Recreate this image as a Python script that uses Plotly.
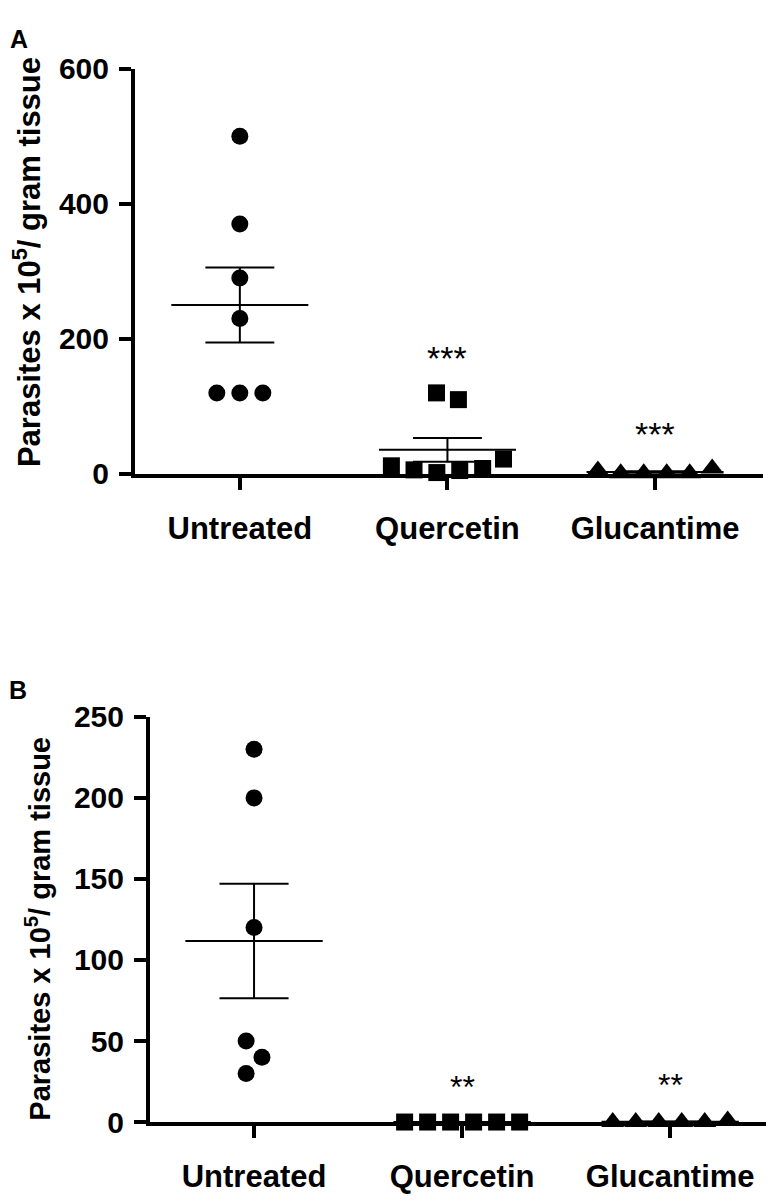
import numpy as np
import plotly.graph_objects as go

# ---------------- data ----------------
categories = ["Untreated", "Quercetin", "Glucantime"]
a_untreated = [500, 370, 290, 230, 120, 120, 120]
a_quercetin = [120, 110, 12, 6, 2, 5, 8, 22]
a_glucantime = [5, 1, 1, 1, 1, 8]
b_untreated = [230, 200, 120, 30, 50, 40]
b_quercetin = [0, 0, 0, 0, 0, 0]
b_glucantime = [0, 0, 0, 0, 0, 1]
a_ticks = [0, 200, 400, 600]
b_ticks = [0, 50, 100, 150, 200, 250]
a_signif = ["", "***", "***"]
b_signif = ["", "**", "**"]
y_title = "<b>Parasites x 10<sup>5</sup>/ gram tissue</b>"
panel_labels = ["A", "B"]

# ---------------- layout constants ----------------
W, H = 774, 1201
FONT = "Arial, Liberation Sans, Helvetica, sans-serif"
symbols = ["circle", "square", "triangle-up"]
sizes = [17, 17, 20]

panels = [
    dict(groups=[a_untreated, a_quercetin, a_glucantime], ticks=a_ticks, signif=a_signif,
         x_px=(127, 755), y_px=(462, 45), xrange=(0.495, 3.52), yrange=(0, 600),
         title_xy=(19, 244), title_size=31, star_size=34, letter_xy=(11, 14)),
    dict(groups=[b_untreated, b_quercetin, b_glucantime], ticks=b_ticks, signif=b_signif,
         x_px=(142, 760), y_px=(1129, 712), xrange=(0.5, 3.47), yrange=(0, 250),
         title_xy=(30, 930), title_size=29, star_size=32, letter_xy=(10, 684)),
]


def swarm(vals, ppu, upx, step=23.0, touch=17.0):
    """Simple beeswarm: points closer than `touch` px vertically share a row."""
    v = np.asarray(vals, float)
    order = np.argsort(v, kind="stable")
    clusters, cur = [], [order[0]]
    for i, j in zip(order[:-1], order[1:]):
        if (v[j] - v[i]) * ppu < touch:
            cur.append(j)
        else:
            clusters.append(cur)
            cur = [j]
    clusters.append(cur)
    off = np.zeros(len(v))
    for c in clusters:
        c = sorted(c)
        pos = [0.0]
        for a, b in zip(c[:-1], c[1:]):
            dy = abs(v[b] - v[a]) * ppu
            pos.append(pos[-1] + np.sqrt(max(step ** 2 - dy ** 2, 0.0)))
        mid = (pos[0] + pos[-1]) / 2
        for k, idx in enumerate(c):
            off[idx] = (pos[k] - mid) / upx
    return off


fig = go.Figure()
annotations = []

for p, pan in enumerate(panels):
    xa = "x" if p == 0 else "x2"
    ya = "y" if p == 0 else "y2"
    x0, x1 = pan["x_px"]
    yb, yt = pan["y_px"]
    upx = (x1 - x0) / (pan["xrange"][1] - pan["xrange"][0])
    ppu = (yb - yt) / (pan["yrange"][1] - pan["yrange"][0])

    for g, vals in enumerate(pan["groups"]):
        cx = g + 1
        v = np.asarray(vals, float)
        xs = cx + swarm(v, ppu, upx)
        m = v.mean()
        sem = v.std(ddof=1) / np.sqrt(len(v))
        hw, cw = 0.33, 0.166
        lx = [cx - hw, cx + hw, None, cx, cx, None,
              cx - cw, cx + cw, None, cx - cw, cx + cw]
        ly = [m, m, None, m - sem, m + sem, None,
              m + sem, m + sem, None, m - sem, m - sem]
        fig.add_trace(go.Scatter(x=lx, y=ly, mode="lines", xaxis=xa, yaxis=ya,
                                 line=dict(color="black", width=2),
                                 cliponaxis=False, hoverinfo="skip"))
        fig.add_trace(go.Scatter(x=xs, y=v, mode="markers", xaxis=xa, yaxis=ya,
                                 marker=dict(symbol=symbols[g], size=sizes[g], color="black",
                                             line=dict(width=0)),
                                 cliponaxis=False, hoverinfo="skip"))
        if pan["signif"][g]:
            annotations.append(dict(x=cx, y=v.max(), xref=xa, yref=ya, yshift=35,
                                    text=pan["signif"][g], showarrow=False,
                                    font=dict(family=FONT, size=pan["star_size"], color="black"),
                                    xanchor="center", yanchor="middle"))

    axis_common = dict(showline=True, linewidth=4, linecolor="black", ticks="outside",
                       ticklen=12, tickwidth=3.5, tickcolor="black", showgrid=False,
                       zeroline=False, mirror=False)
    fig.update_layout(**{
        ("xaxis" if p == 0 else "xaxis2"): dict(
            domain=[x0 / W, x1 / W], range=list(pan["xrange"]), tickvals=[1, 2, 3],
            ticktext=categories, anchor=ya, ticklabelstandoff=12,
            tickfont=dict(family=FONT, size=31, color="black", weight="bold"),
            **axis_common),
        ("yaxis" if p == 0 else "yaxis2"): dict(
            domain=[1 - yb / H, 1 - yt / H], range=list(pan["yrange"]),
            tickvals=pan["ticks"], anchor=xa, ticklabelstandoff=4,
            tickfont=dict(family=FONT, size=30, color="black", weight="bold"),
            **axis_common),
    })

    tx, ty = pan["title_xy"]
    annotations.append(dict(x=tx / W, y=1 - ty / H, xref="paper", yref="paper",
                            text=y_title, textangle=-90, showarrow=False,
                            font=dict(family=FONT, size=pan["title_size"], color="black"),
                            xanchor="center", yanchor="middle"))
    lx_, ly_ = pan["letter_xy"]
    annotations.append(dict(x=lx_ / W, y=1 - ly_ / H, xref="paper", yref="paper",
                            text="<b>%s</b>" % panel_labels[p], showarrow=False,
                            font=dict(family=FONT, size=25, color="black"),
                            xanchor="center", yanchor="middle"))

fig.update_layout(width=W, height=H, margin=dict(l=0, r=0, t=0, b=0),
                  paper_bgcolor="white", plot_bgcolor="white", showlegend=False,
                  annotations=annotations)

fig.write_html("out.html")
